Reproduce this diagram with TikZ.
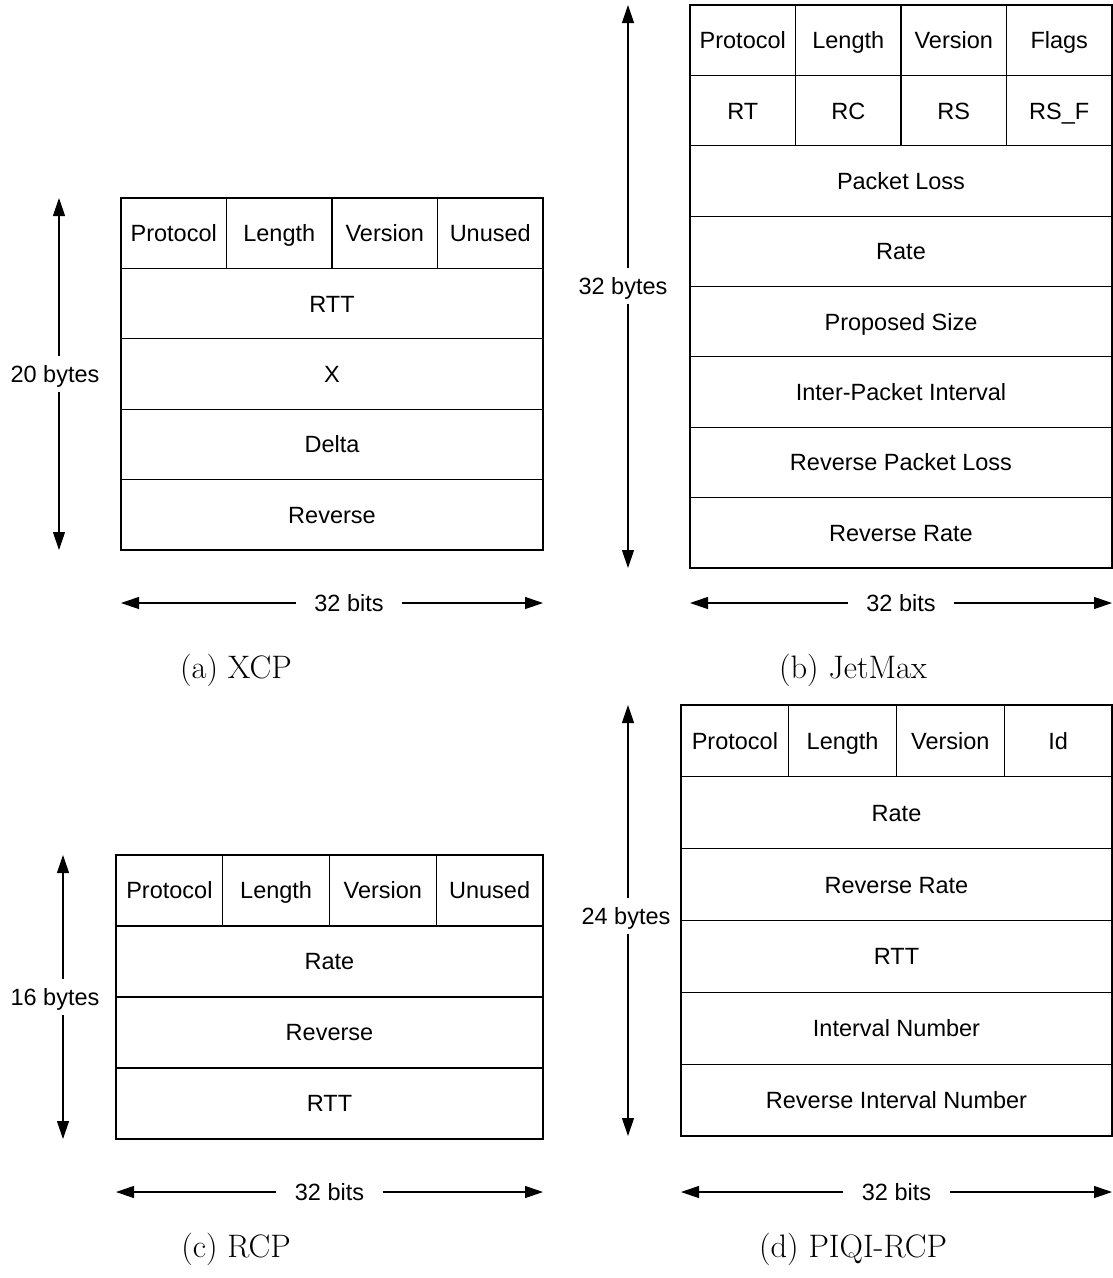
\documentclass[tikz,border=0pt]{standalone}
\usepackage{fontspec}
\setmainfont{Liberation Sans}
\newfontfamily\capfont{Latin Modern Roman}
\usetikzlibrary{arrows.meta}
\tikzset{
  cell/.style={draw, line width=1.1pt, inner sep=0pt, text height=16.9pt, text depth=0pt, font=\fontsize{23.5}{28}\selectfont},
  dimlab/.style={inner sep=0pt, text height=16.9pt, text depth=0pt, font=\fontsize{23.5}{28}\selectfont},
  vlab/.style={dimlab, minimum height=36pt},
  hlab/.style={dimlab, minimum width=106pt},
  dim/.style={line width=1.2pt, -{Triangle[length=18pt,width=12pt]}},
  caption/.style={inner sep=0pt, text height=22pt, text depth=0pt, font=\capfont\fontsize{32.5}{38}\selectfont}
}
\begin{document}
\begin{tikzpicture}[x=1pt,y=-1pt]
\useasboundingbox (0,0) rectangle (1113,1278);
% ---------- (a) XCP ----------
\tikzset{aq/.style={cell, minimum width=105.5pt, minimum height=70.4pt},
         af/.style={cell, minimum width=422pt, minimum height=70.4pt}}
\node[aq] (a11) at (173.75,233.2) {Protocol};
\node[aq] (a12) at (279.25,233.2) {Length};
\node[aq] (a13) at (384.75,233.2) {Version};
\node[aq] (a14) at (490.25,233.2) {Unused};
\node[af] (a2) at (332,303.6) {RTT};
\node[af] (a3) at (332,374.0) {X};
\node[af] (a4) at (332,444.4) {Delta};
\node[af] (a5) at (332,514.8) {Reverse};
\coordinate (atop) at (59,198);
\coordinate (abot) at (59,550);
\node[vlab] (alab) at (55,374) {20 bytes};
\draw[dim] (alab.north -| atop) -- (atop);
\draw[dim] (alab.south -| abot) -- (abot);
\coordinate (aleft) at (121,603);
\coordinate (aright) at (543,603);
\node[hlab] (ahl) at (349,603) {32 bits};
\draw[dim] (ahl.west) -- (aleft);
\draw[dim] (ahl.east) -- (aright);
\node[caption] (acap) at (236,667) {(a) XCP};
% ---------- (b) JetMax ----------
\tikzset{bq/.style={cell, minimum width=105.5pt, minimum height=70.375pt},
         bf/.style={cell, minimum width=422pt, minimum height=70.375pt}}
\node[bq] (b11) at (742.75,40.19) {Protocol};
\node[bq] (b12) at (848.25,40.19) {Length};
\node[bq] (b13) at (953.75,40.19) {Version};
\node[bq] (b14) at (1059.25,40.19) {Flags};
\node[bq] (b21) at (742.75,110.56) {RT};
\node[bq] (b22) at (848.25,110.56) {RC};
\node[bq] (b23) at (953.75,110.56) {RS};
\node[bq] (b24) at (1059.25,110.56) {RS\_F};
\node[bf] (b3) at (901,180.94) {Packet Loss};
\node[bf] (b4) at (901,251.31) {Rate};
\node[bf] (b5) at (901,321.69) {Proposed Size};
\node[bf] (b6) at (901,392.06) {Inter-Packet Interval};
\node[bf] (b7) at (901,462.44) {Reverse Packet Loss};
\node[bf] (b8) at (901,532.81) {Reverse Rate};
\coordinate (btop) at (628,5);
\coordinate (bbot) at (628,568);
\node[vlab] (blab) at (623,286) {32 bytes};
\draw[dim] (blab.north -| btop) -- (btop);
\draw[dim] (blab.south -| bbot) -- (bbot);
\coordinate (bleft) at (690,603);
\coordinate (bright) at (1112,603);
\node[hlab] (bhl) at (901,603) {32 bits};
\draw[dim] (bhl.west) -- (bleft);
\draw[dim] (bhl.east) -- (bright);
\node[caption] (bcap) at (853,667) {(b) JetMax};
% ---------- (c) RCP ----------
\tikzset{cq/.style={cell, minimum width=106.75pt, minimum height=71pt},
         cf/.style={cell, minimum width=427pt, minimum height=71pt}}
\node[cq] (c11) at (169.375,890.5) {Protocol};
\node[cq] (c12) at (276.125,890.5) {Length};
\node[cq] (c13) at (382.875,890.5) {Version};
\node[cq] (c14) at (489.625,890.5) {Unused};
\node[cf] (c2) at (329.5,961.5) {Rate};
\node[cf] (c3) at (329.5,1032.5) {Reverse};
\node[cf] (c4) at (329.5,1103.5) {RTT};
\coordinate (ctop) at (63,855);
\coordinate (cbot) at (63,1139);
\node[vlab] (clab) at (55,997) {16 bytes};
\draw[dim] (clab.north -| ctop) -- (ctop);
\draw[dim] (clab.south -| cbot) -- (cbot);
\coordinate (cleft) at (116,1192);
\coordinate (cright) at (543,1192);
\node[hlab] (chl) at (329.5,1192) {32 bits};
\draw[dim] (chl.west) -- (cleft);
\draw[dim] (chl.east) -- (cright);
\node[caption] (ccap) at (236,1246) {(c) RCP};
% ---------- (d) PIQI-RCP ----------
\tikzset{dq/.style={cell, minimum width=107.75pt, minimum height=71.83pt},
         df/.style={cell, minimum width=431pt, minimum height=71.83pt}}
\node[dq] (d11) at (734.875,740.92) {Protocol};
\node[dq] (d12) at (842.625,740.92) {Length};
\node[dq] (d13) at (950.375,740.92) {Version};
\node[dq] (d14) at (1058.125,740.92) {Id};
\node[df] (d2) at (896.5,812.75) {Rate};
\node[df] (d3) at (896.5,884.58) {Reverse Rate};
\node[df] (d4) at (896.5,956.42) {RTT};
\node[df] (d5) at (896.5,1028.25) {Interval Number};
\node[df] (d6) at (896.5,1100.08) {Reverse Interval Number};
\coordinate (dtop) at (628,705);
\coordinate (dbot) at (628,1136);
\node[vlab] (dlab) at (626,916) {24 bytes};
\draw[dim] (dlab.north -| dtop) -- (dtop);
\draw[dim] (dlab.south -| dbot) -- (dbot);
\coordinate (dleft) at (681,1192);
\coordinate (dright) at (1112,1192);
\node[hlab] (dhl) at (896.5,1192) {32 bits};
\draw[dim] (dhl.west) -- (dleft);
\draw[dim] (dhl.east) -- (dright);
\node[caption] (dcap) at (853,1246) {(d) PIQI-RCP};
\end{tikzpicture}
\end{document}
